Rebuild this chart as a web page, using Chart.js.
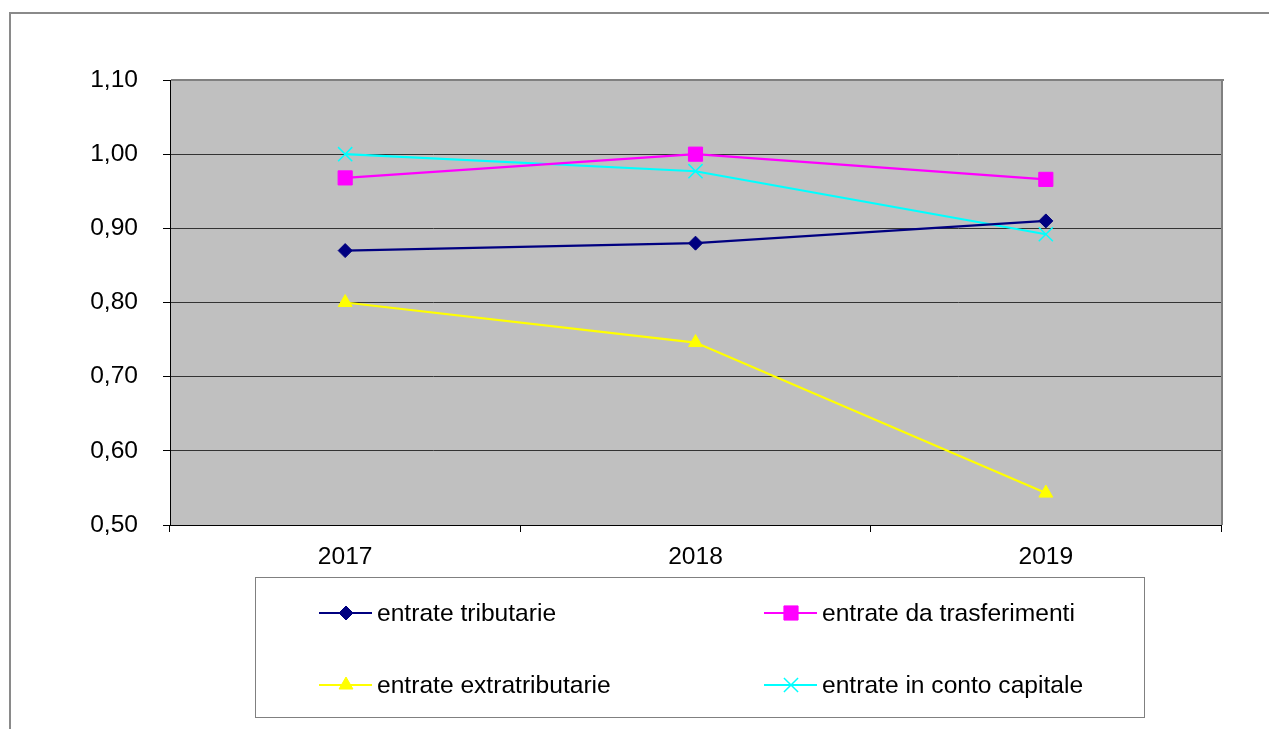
<!DOCTYPE html>
<html>
<head>
<meta charset="utf-8">
<script src="https://cdn.jsdelivr.net/npm/chart.js@4"></script>
<style>
  html, body { margin: 0; padding: 0; background: #fff; }
  #wrap { width: 1269px; height: 729px; position: relative; }
</style>
</head>
<body>
<div id="wrap"><canvas id="c"></canvas></div>
<script>
const categories = ['2017', '2018', '2019'];
const tributarie = [0.87, 0.88, 0.91];
const trasferimenti = [0.968, 1.00, 0.966];
const extratributarie = [0.80, 0.746, 0.543];
const contoCapitale = [1.00, 0.977, 0.892];
const yTickValues = [0.50, 0.60, 0.70, 0.80, 0.90, 1.00, 1.10];

const FONT = { family: '"Liberation Sans", Arial, sans-serif', size: 24.6 };

const bgPlugin = {
  id: 'bg',
  beforeDraw(chart) {
    const ctx = chart.ctx, a = chart.chartArea;
    ctx.save();
    ctx.fillStyle = '#ffffff';
    ctx.fillRect(0, 0, chart.width, chart.height);
    // outer frame
    ctx.fillStyle = '#8a8a8a';
    ctx.fillRect(9, 12, chart.width - 9, 2);
    ctx.fillRect(9, 12, 2, chart.height - 12);
    // plot area
    ctx.fillStyle = '#c0c0c0';
    ctx.fillRect(a.left, a.top, a.right - a.left, a.bottom - a.top);
    ctx.restore();
  },
  afterDatasetsDraw(chart) {
    const ctx = chart.ctx, a = chart.chartArea;
    ctx.save();
    ctx.fillStyle = '#808080';
    ctx.fillRect(a.left + 1, a.top - 1, a.right - a.left + 2, 2);
    ctx.fillRect(a.right, a.top - 1, 2, a.bottom - a.top + 1);
    ctx.restore();
  },
  afterDraw(chart) {
    const ctx = chart.ctx;
    ctx.save();
    // legend box
    ctx.strokeStyle = '#808080';
    ctx.lineWidth = 1;
    ctx.strokeRect(255.5, 577.5, 889, 140);
    const pos = [
      { x0: 319, x1: 372, mx: 346, tx: 377, y: 613 },
      { x0: 764, x1: 817, mx: 791, tx: 822, y: 613 },
      { x0: 319, x1: 372, mx: 346, tx: 377, y: 685 },
      { x0: 764, x1: 817, mx: 791, tx: 822, y: 685 }
    ];
    chart.data.datasets.forEach((ds, i) => {
      const p = pos[i];
      ctx.strokeStyle = ds.borderColor;
      ctx.lineWidth = ds.borderWidth;
      ctx.beginPath();
      ctx.moveTo(p.x0, p.y);
      ctx.lineTo(p.x1, p.y);
      ctx.stroke();
      ctx.fillStyle = ds.pointBackgroundColor;
      ctx.strokeStyle = ds.pointBorderColor;
      ctx.lineWidth = ds.pointBorderWidth;
      Chart.helpers.drawPoint(ctx, {
        pointStyle: ds.pointStyle, radius: ds.pointRadius,
        borderWidth: ds.pointBorderWidth, rotation: 0
      }, p.mx, p.y);
      ctx.fillStyle = '#000';
      ctx.font = FONT.size + 'px ' + FONT.family;
      ctx.textBaseline = 'middle';
      ctx.textAlign = 'left';
      ctx.fillText(ds.label, p.tx, p.y + 1);
    });
    ctx.restore();
  }
};

function ds(label, data, color, style, radius, pbw) {
  return {
    label, data,
    borderColor: color, backgroundColor: color,
    borderWidth: 2.2,
    pointStyle: style, pointRadius: radius, pointHoverRadius: radius,
    pointBackgroundColor: color, pointBorderColor: color,
    pointBorderWidth: pbw,
    tension: 0, fill: false
  };
}

new Chart(document.getElementById('c'), {
  type: 'line',
  data: {
    labels: categories,
    datasets: [
      ds('entrate tributarie', tributarie, '#000080', 'rectRot', 7, 1),
      ds('entrate da trasferimenti', trasferimenti, '#ff00ff', 'rect', 10, 1),
      ds('entrate extratributarie', extratributarie, '#ffff00', 'triangle', 8, 1),
      ds('entrate in conto capitale', contoCapitale, '#00ffff', 'crossRot', 10, 1.5)
    ]
  },
  options: {
    responsive: true,
    maintainAspectRatio: false,
    animation: false,
    layout: { padding: { left: 0, top: 80, right: 48, bottom: 0 } },
    plugins: { legend: { display: false }, tooltip: { enabled: false } },
    scales: {
      x: {
        type: 'category',
        offset: true,
        afterFit(s) { s.height = 204; },
        grid: { offset: true, drawOnChartArea: false, drawTicks: true, tickLength: 7, tickColor: '#000', color: '#000' },
        border: { color: '#000', width: 1 },
        ticks: { font: FONT, color: '#000', padding: 10, maxRotation: 0 }
      },
      y: {
        min: 0.5, max: 1.1,
        afterFit(s) { s.width = 170; },
        afterBuildTicks(s) { s.ticks = yTickValues.map(v => ({ value: v })); },
        grid: { color: '#333', lineWidth: 1, tickLength: 7, tickColor: '#000' },
        border: { color: '#000', width: 1 },
        ticks: {
          font: FONT, color: '#000', padding: 25,
          callback: v => Number(v).toFixed(2).replace('.', ',')
        }
      }
    }
  },
  plugins: [bgPlugin]
});
</script>
</body>
</html>
